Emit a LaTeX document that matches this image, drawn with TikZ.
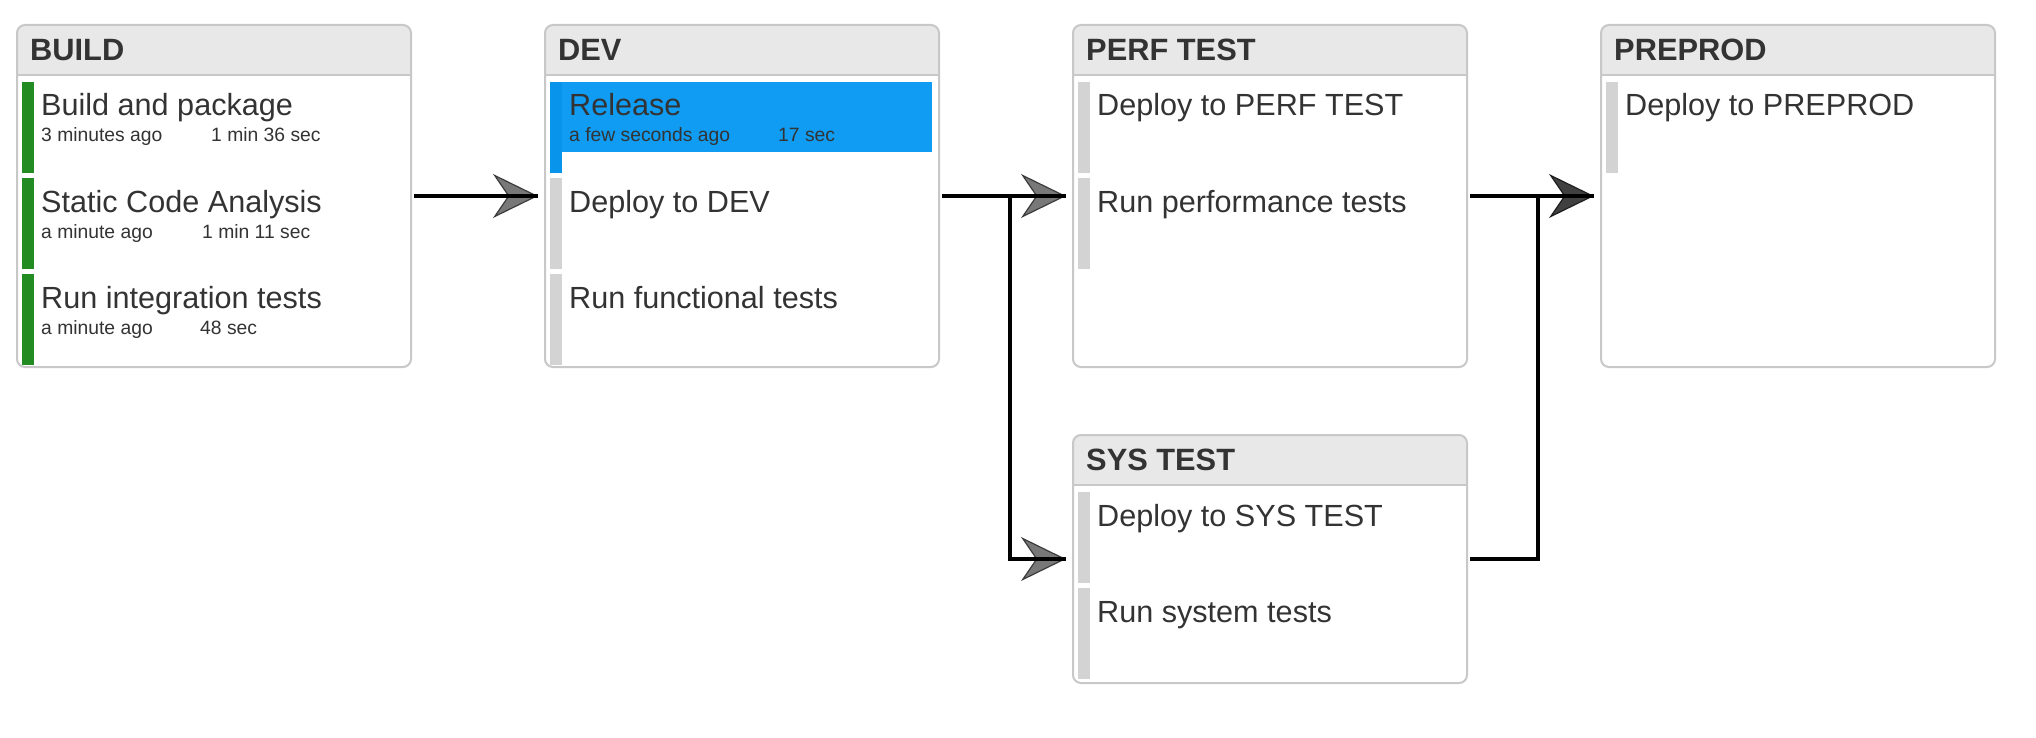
\documentclass[tikz,border=0pt]{standalone}
\usepackage{fontspec}
\setmainfont{Liberation Sans}
\usetikzlibrary{arrows.meta}
\definecolor{textdark}{HTML}{333333}
\definecolor{headgray}{HTML}{E8E8E8}
\definecolor{boxborder}{HTML}{C8C8C8}
\definecolor{bargray}{HTML}{D3D3D3}
\definecolor{bargreen}{HTML}{228B22}
\definecolor{bluefill}{HTML}{0F9CF2}
\definecolor{bluebar}{HTML}{0994EC}
\definecolor{arrowgray}{HTML}{787878}
\definecolor{arrowedge}{HTML}{3C3C3C}
\definecolor{arrowdark}{HTML}{404040}
\definecolor{arrowdarkedge}{HTML}{1E1E1E}
\tikzset{
  stagebox/.style={draw=boxborder, line width=2pt, rounded corners=8pt, minimum width=394pt,
    inner sep=0pt, outer sep=0pt, anchor=north west},
  headtext/.style={anchor=base west, inner sep=0pt, text=textdark,
    font=\fontsize{30.8}{36}\selectfont\bfseries},
  tasktitle/.style={anchor=base west, inner sep=0pt, text=textdark,
    font=\fontsize{30.6}{36}\selectfont},
  tasksub/.style={anchor=base west, inner sep=0pt, text=textdark,
    font=\fontsize{19.3}{23}\selectfont},
  conn/.style={line width=4.5pt, black},
  gtip/.style={-{Stealth[length=45pt,width=44pt,inset=15pt,line width=1.2pt,color=arrowedge,fill=arrowgray]}},
  dtip/.style={-{Stealth[length=45pt,width=44pt,inset=15pt,line width=1.2pt,color=arrowdarkedge,fill=arrowdark]}},
}
% stage: name, left x, top y, height, title
\newcommand\mystage[5]{%
  \fill[headgray, rounded corners=7pt] (#2,#3) rectangle ++(394,50);
  \fill[headgray] (#2,#3+25) rectangle ++(394,25);
  \node[stagebox, minimum height=#4pt] (#1) at (#2,#3) {};
  \draw[boxborder, line width=2pt] (#2,#3+50) -- ++(394,0);
  \node[headtext] (#1-head) at (#2+13,#3+35.5) {#5};
}
% task: name, stage left x, row top y, bar colour, title
\newcommand\mytask[5]{%
  \fill[#4] (#2+5,#3) rectangle ++(12,91);
  \node[tasktitle] (#1) at (#2+24,#3+34) {#5};
}
\begin{document}
\begin{tikzpicture}[x=1pt,y=-1pt]
\useasboundingbox[fill=white] (0,0) rectangle (2036,738);

% BUILD
\mystage{build}{17}{25}{342}{BUILD}
\mytask{t1}{17}{82}{bargreen}{Build and package}
\node[tasksub] (t1a) at (41,142) {3 minutes ago};
\node[tasksub] (t1b) at (211,142) {1 min 36 sec};
\mytask{t2}{17}{178}{bargreen}{Static Code Analysis}
\node[tasksub] (t2a) at (41,238) {a minute ago};
\node[tasksub] (t2b) at (202,238) {1 min 11 sec};
\mytask{t3}{17}{274}{bargreen}{Run integration tests}
\node[tasksub] (t3a) at (41,334) {a minute ago};
\node[tasksub] (t3b) at (200,334) {48 sec};

% DEV
\mystage{dev}{545}{25}{342}{DEV}
\fill[bluefill] (562,82) rectangle (932,152);
\mytask{d1}{545}{82}{bluebar}{Release}
\node[tasksub] (d1a) at (569,142) {a few seconds ago};
\node[tasksub] (d1b) at (778,142) {17 sec};
\mytask{d2}{545}{178}{bargray}{Deploy to DEV}
\mytask{d3}{545}{274}{bargray}{Run functional tests}

% PERF TEST
\mystage{perf}{1073}{25}{342}{PERF TEST}
\mytask{p1}{1073}{82}{bargray}{Deploy to PERF TEST}
\mytask{p2}{1073}{178}{bargray}{Run performance tests}

% PREPROD
\mystage{preprod}{1601}{25}{342}{PREPROD}
\mytask{r1}{1601}{82}{bargray}{Deploy to PREPROD}

% SYS TEST
\mystage{sys}{1073}{435}{248}{SYS TEST}
\mytask{s1}{1073}{492}{bargray}{Deploy to SYS TEST}
\mytask{s2}{1073}{588}{bargray}{Run system tests}

% junctions
\coordinate (j1) at (1010,196);
\coordinate (j2) at (1538,196);

% connectors
\draw[conn, gtip, shorten <=3pt, shorten >=7pt] (build.east) -- (dev.west);
\draw[conn, shorten <=3pt, shorten >=7pt] (build.east) -- (dev.west);

\draw[conn, gtip, shorten <=3pt, shorten >=7pt] (dev.east) -- (perf.west);
\draw[conn, shorten <=3pt, shorten >=7pt] (dev.east) -- (perf.west);

\draw[conn, gtip, shorten >=7pt] (j1) |- (sys.west);
\draw[conn, shorten >=7pt] (j1) |- (sys.west);

\draw[conn, dtip, shorten <=3pt, shorten >=7pt] (perf.east) -- (preprod.west);
\draw[conn, shorten <=3pt, shorten >=7pt] (perf.east) -- (preprod.west);

\draw[conn, shorten <=3pt] (sys.east) -| (j2);
\end{tikzpicture}
\end{document}
